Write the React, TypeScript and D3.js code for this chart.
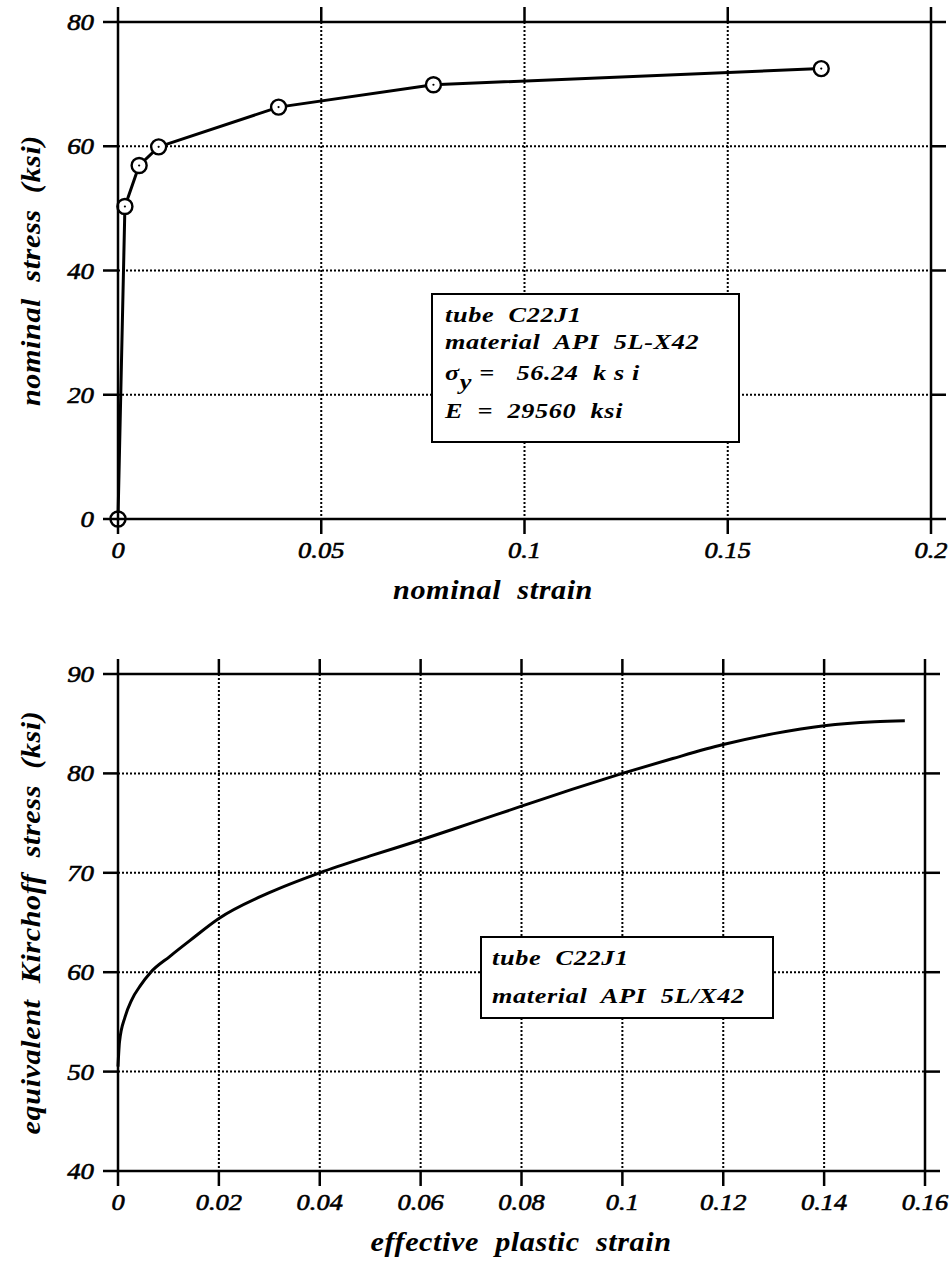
import React, { useEffect, useRef } from 'react';
import * as d3 from 'd3';

// nominal stress-strain test points, tube C22J1
const nominalStrain = [0, 0.0017, 0.0052, 0.010, 0.0395, 0.0776, 0.173];
const nominalStress = [0, 50.3, 56.9, 59.9, 66.3, 69.9, 72.5];

// equivalent Kirchoff stress vs effective plastic strain
const plasticStrain = [0, 0.0003, 0.0014, 0.0027, 0.0045, 0.0065, 0.0103, 0.0143, 0.02, 0.03, 0.04,
  0.05, 0.06, 0.07, 0.08, 0.09, 0.1, 0.11, 0.12, 0.13, 0.14, 0.15, 0.156];
const kirchoffStress = [50.5, 53.0, 55.5, 57.2, 58.7, 60.0, 61.6, 63.2, 65.4, 68.0, 70.0,
  71.7, 73.3, 75.0, 76.7, 78.4, 80.0, 81.5, 82.9, 84.0, 84.8, 85.2, 85.3];

const topXTicks = [0, 0.05, 0.1, 0.15, 0.2];
const topXTickLabels = ['0', '0.05', '0.1', '0.15', '0.2'];
const topYTicks = [0, 20, 40, 60, 80];
const bottomXTicks = [0, 0.02, 0.04, 0.06, 0.08, 0.1, 0.12, 0.14, 0.16];
const bottomXTickLabels = ['0', '0.02', '0.04', '0.06', '0.08', '0.1', '0.12', '0.14', '0.16'];
const bottomYTicks = [40, 50, 60, 70, 80, 90];

const topLegend = ['tube  C22J1', 'material  API  5L-X42'];
const bottomLegend = ['tube  C22J1', 'material  API  5L/X42'];

const FONT = 'Liberation Serif';

type Sel = d3.Selection<SVGGElement, unknown, null, undefined>;

type Panel = {
  left: number; right: number; top: number; bottom: number;
  xDomain: [number, number]; yDomain: [number, number];
  xTicks: number[]; xLabels: string[]; yTicks: number[];
  xTitle: string; xTitleX: number; yTitle: string;
};

// text placed by transform, stretched horizontally to get the wide plotter lettering
const addText = (g: Sel, x: number, y: number, size: number, bold: boolean, sx: number,
  anchor = 'start', rotate = 0) =>
  g.append('text')
    .attr('transform', `translate(${x},${y}) rotate(${rotate}) scale(${sx},1)`)
    .attr('text-anchor', anchor)
    .attr('font-family', FONT)
    .attr('font-style', 'italic')
    .attr('font-weight', bold ? 'bold' : 'normal')
    .attr('font-size', size)
    .style('white-space', 'pre');

const drawPanel = (svg: d3.Selection<SVGSVGElement, unknown, null, undefined>, p: Panel) => {
  const x = d3.scaleLinear().domain(p.xDomain).range([p.left, p.right]);
  const y = d3.scaleLinear().domain(p.yDomain).range([p.bottom, p.top]);
  const g = svg.append('g');

  // dotted grid
  g.selectAll('.gx')
    .data(p.xTicks.slice(1, -1))
    .enter()
    .append('line')
    .attr('x1', (d) => x(d)).attr('x2', (d) => x(d))
    .attr('y1', p.top).attr('y2', p.bottom)
    .attr('stroke', '#000').attr('stroke-width', 2)
    .attr('stroke-dasharray', '2,2');
  g.selectAll('.gy')
    .data(p.yTicks.slice(1, -1))
    .enter()
    .append('line')
    .attr('y1', (d) => y(d)).attr('y2', (d) => y(d))
    .attr('x1', p.left).attr('x2', p.right)
    .attr('stroke', '#000').attr('stroke-width', 2)
    .attr('stroke-dasharray', '2,2');

  return { x, y, g };
};

const drawFrame = (g: Sel, p: Panel, x: d3.ScaleLinear<number, number>, y: d3.ScaleLinear<number, number>) => {
  const t = 15;
  g.append('rect')
    .attr('x', p.left).attr('y', p.top)
    .attr('width', p.right - p.left).attr('height', p.bottom - p.top)
    .attr('fill', 'none').attr('stroke', '#000').attr('stroke-width', 2.5);

  // outward ticks on every side
  p.xTicks.forEach((v) => {
    g.append('line').attr('x1', x(v)).attr('x2', x(v))
      .attr('y1', p.bottom).attr('y2', p.bottom + t)
      .attr('stroke', '#000').attr('stroke-width', 2.5);
    g.append('line').attr('x1', x(v)).attr('x2', x(v))
      .attr('y1', p.top - t).attr('y2', p.top)
      .attr('stroke', '#000').attr('stroke-width', 2.5);
  });
  p.yTicks.forEach((v) => {
    g.append('line').attr('y1', y(v)).attr('y2', y(v))
      .attr('x1', p.left - t).attr('x2', p.left)
      .attr('stroke', '#000').attr('stroke-width', 2.5);
    g.append('line').attr('y1', y(v)).attr('y2', y(v))
      .attr('x1', p.right).attr('x2', p.right + t)
      .attr('stroke', '#000').attr('stroke-width', 2.5);
  });

  // tick labels
  p.xTicks.forEach((v, i) => {
    addText(g, x(v), p.bottom + 39, 23, false, 1.15, 'middle')
      .attr('stroke', '#000').attr('stroke-width', 0.6)
      .text(p.xLabels[i]);
  });
  p.yTicks.forEach((v) => {
    addText(g, p.left - 24, y(v) + 8, 24, false, 1.12, 'end')
      .attr('stroke', '#000').attr('stroke-width', 0.6)
      .text(String(v));
  });

  // axis titles
  addText(g, p.xTitleX, p.bottom + 80, 27, true, 1.12, 'middle')
    .attr('letter-spacing', 0.5)
    .text(p.xTitle);
  addText(g, 40, (p.top + p.bottom) / 2, 27, true, 1.12, 'middle', -90)
    .attr('letter-spacing', 0.5)
    .text(p.yTitle);
};

const legendBox = (g: Sel, bx: number, by: number, bw: number, bh: number) => {
  g.append('rect')
    .attr('x', bx).attr('y', by).attr('width', bw).attr('height', bh)
    .attr('fill', '#fff').attr('stroke', '#000').attr('stroke-width', 2);
};

const legendText = (g: Sel, tx: number, ty: number) =>
  addText(g, tx, ty, 21, true, 1.25).attr('letter-spacing', 0.5);

const App = () => {
  const ref = useRef<SVGSVGElement>(null);

  useEffect(() => {
    const svg = d3.select(ref.current as SVGSVGElement);
    svg.selectAll('*').remove();

    // ---- top: nominal stress vs nominal strain
    const top: Panel = {
      left: 118, right: 931, top: 22, bottom: 519,
      xDomain: [0, 0.2], yDomain: [0, 80],
      xTicks: topXTicks, xLabels: topXTickLabels, yTicks: topYTicks,
      xTitle: 'nominal  strain', xTitleX: 493, yTitle: 'nominal  stress  (ksi)',
    };
    const a = drawPanel(svg, top);
    const pts = nominalStrain.map((s, i) => [s, nominalStress[i]] as [number, number]);
    a.g.append('path')
      .datum(pts)
      .attr('d', d3.line<[number, number]>().x((d) => a.x(d[0])).y((d) => a.y(d[1])))
      .attr('fill', 'none').attr('stroke', '#000').attr('stroke-width', 3)
      .attr('stroke-linejoin', 'round');
    a.g.selectAll('.m')
      .data(pts)
      .enter()
      .append('circle')
      .attr('cx', (d) => a.x(d[0])).attr('cy', (d) => a.y(d[1]))
      .attr('r', 7.5)
      .attr('fill', '#fff').attr('stroke', '#000').attr('stroke-width', 2.4);
    a.g.selectAll('.md')
      .data(pts)
      .enter()
      .append('circle')
      .attr('cx', (d) => a.x(d[0])).attr('cy', (d) => a.y(d[1]))
      .attr('r', 1.1).attr('fill', '#000');
    legendBox(a.g, 432, 294, 307, 148);
    legendText(a.g, 445, 322).text(topLegend[0]);
    legendText(a.g, 445, 349).text(topLegend[1]);
    const sig = legendText(a.g, 445, 380);
    sig.append('tspan').text('σ');
    sig.append('tspan').attr('dy', 9).text('y');
    sig.append('tspan').attr('dy', -9).text(' =   56.24  k s i');
    legendText(a.g, 445, 418).text('E  =  29560  ksi');
    drawFrame(a.g, top, a.x, a.y);

    // ---- bottom: equivalent Kirchoff stress vs effective plastic strain
    const bottom: Panel = {
      left: 118, right: 925, top: 674, bottom: 1171,
      xDomain: [0, 0.16], yDomain: [40, 90],
      xTicks: bottomXTicks, xLabels: bottomXTickLabels, yTicks: bottomYTicks,
      xTitle: 'effective  plastic  strain', xTitleX: 521, yTitle: 'equivalent  Kirchoff  stress  (ksi)',
    };
    const b = drawPanel(svg, bottom);
    const curve = plasticStrain.map((s, i) => [s, kirchoffStress[i]] as [number, number]);
    b.g.append('path')
      .datum(curve)
      .attr('d', d3.line<[number, number]>()
        .x((d) => b.x(d[0])).y((d) => b.y(d[1]))
        .curve(d3.curveMonotoneX))
      .attr('fill', 'none').attr('stroke', '#000').attr('stroke-width', 3);
    legendBox(b.g, 481, 937, 292, 81);
    legendText(b.g, 492, 965).text(bottomLegend[0]);
    legendText(b.g, 492, 1003).text(bottomLegend[1]);
    drawFrame(b.g, bottom, b.x, b.y);
  }, []);

  return (
    <svg ref={ref} width={950} height={1262}
      style={{ position: 'absolute', left: 0, top: 0, background: '#fff' }} />
  );
};

export default App;
